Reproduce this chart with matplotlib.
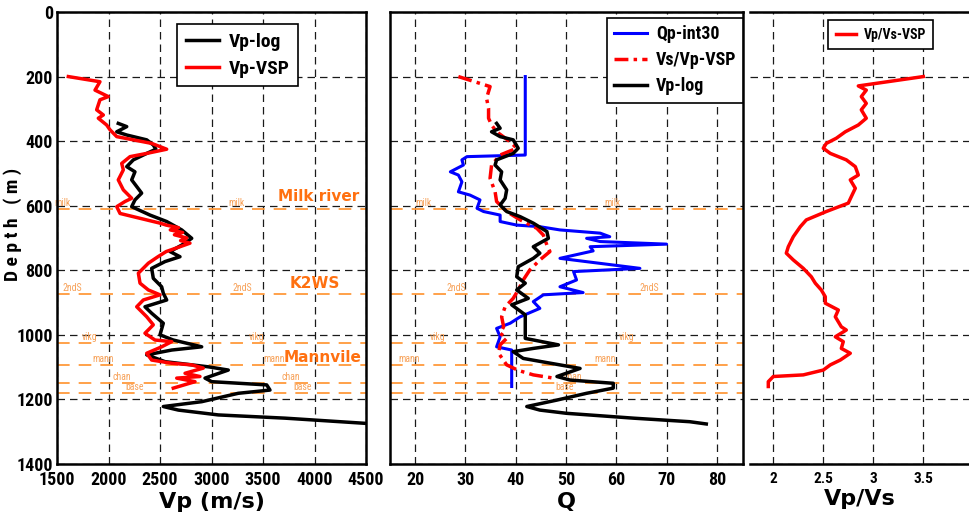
import matplotlib
matplotlib.use("Agg")
import matplotlib.pyplot as plt
from matplotlib import font_manager

# ---------------- data ----------------
vp_vsp_depth = [200, 216, 242, 262, 272, 303, 319, 329, 350, 365, 386, 396, 407, 425, 438, 448, 469, 489,
                520, 551, 577, 587, 603, 624, 639, 654, 660, 668, 675, 683, 690, 700, 708, 716, 727, 742,
                758, 778, 809, 840, 861, 876, 892, 913, 944, 969, 995, 1016, 1021, 1037, 1057, 1078, 1088,
                1093, 1103, 1119, 1129, 1134, 1145, 1165]
vp_vsp = [1610, 1917, 1869, 1998, 1917, 1885, 1950, 1901, 1982, 2015, 2080, 2241, 2419, 2565, 2371, 2209, 2128, 2144,
          2095, 2144, 2225, 2160, 2080, 2112, 2306, 2500, 2560, 2680, 2600, 2720, 2640, 2760, 2700, 2791, 2694, 2560,
          2480, 2387, 2290, 2306, 2387, 2500, 2338, 2274, 2371, 2435, 2354, 2451, 2614, 2516, 2371, 2419, 2614,
          2808, 2920, 2743, 2888, 2662, 2840, 2629]

vp_log_depth = [345, 355, 371, 381, 396, 412, 425, 438, 458, 479, 495, 520, 561, 582, 603, 629, 649, 675, 701,
                722, 742, 758, 773, 794, 825, 851, 871, 892, 913, 933, 964, 1000, 1016, 1037, 1047, 1062, 1083,
                1099, 1109, 1134, 1145, 1155, 1171, 1181, 1207, 1222, 1233, 1248, 1258, 1274]
vp_log = [2095, 2177, 2080, 2177, 2371, 2435, 2460, 2371, 2241, 2177, 2257, 2225, 2322, 2257, 2225, 2403, 2565, 2711, 2808,
          2711, 2597, 2694, 2549, 2419, 2435, 2516, 2532, 2565, 2354, 2419, 2532, 2500, 2629, 2905, 2614, 2371, 2549,
          2969, 3163, 2937, 3002, 3536, 3568, 3260, 2905, 2532, 2678, 3066, 3714, 4490]

qp_depth = [200, 443, 448, 458, 474, 495, 505, 526, 557, 567, 582, 608, 618, 629, 649, 660, 665, 675, 685, 696,
            701, 711, 719, 727, 740, 763, 794, 804, 830, 851, 869, 876, 897, 918, 944, 964, 980, 1006, 1037,
            1047, 1160]
qp_int30 = [41.9, 41.9, 30.3, 29.3, 29.6, 27.0, 28.6, 29.3, 28.6, 30.9, 32.9, 32.3, 33.6, 36.9, 36.9, 40.2, 44.8,
            48.8, 56.8, 58.7, 54.1, 56.8, 70.0, 54.8, 55.4, 48.8, 64.7, 51.5, 52.1, 48.8, 53.4, 45.5, 43.5, 44.8,
            40.9, 38.9, 36.2, 36.9, 36.2, 39.2, 39.2]

qvs_depth = [200, 231, 267, 298, 329, 350, 371, 402, 422, 443, 474, 515, 557, 587, 618, 644, 670, 691, 722, 742,
             768, 799, 830, 861, 887, 913, 944, 975, 995, 1011, 1031, 1057, 1093, 1110, 1124, 1134]
q_vsvp = [28.6, 34.9, 34.2, 34.6, 34.6, 35.2, 36.2, 38.9, 40.2, 36.9, 35.2, 34.9, 35.9, 36.2, 38.2, 40.9, 44.2,
          45.5, 46.2, 46.8, 44.8, 42.8, 41.5, 40.5, 39.5, 37.9, 37.2, 37.6, 36.9, 38.2, 36.9, 36.6, 38.2, 40.5,
          43.5, 47.5]

qlog_depth = [345, 360, 371, 386, 396, 422, 438, 458, 474, 495, 520, 551, 577, 598, 618, 634, 654, 680, 701, 727,
              747, 763, 789, 820, 840, 861, 887, 907, 938, 985, 1011, 1031, 1042, 1052, 1073, 1104, 1129, 1140,
              1150, 1165, 1181, 1202, 1222, 1233, 1243, 1258, 1269, 1276]
q_log = [36.2, 36.9, 35.2, 36.9, 39.5, 40.5, 39.5, 36.2, 35.9, 37.2, 36.9, 38.2, 37.9, 36.9, 38.2, 40.9, 43.5,
         46.2, 46.5, 43.5, 44.8, 43.5, 40.5, 40.2, 41.9, 40.2, 42.5, 39.2, 41.9, 41.9, 41.9, 48.5, 43.5, 39.5,
         41.5, 52.8, 48.2, 50.8, 59.4, 59.4, 54.1, 48.2, 42.2, 44.8, 50.1, 63.4, 74.6, 77.9]

vpvs_depth = [200, 229, 242, 262, 283, 303, 329, 350, 371, 391, 407, 422, 438, 458, 479, 505, 520, 546, 572, 592,
              618, 644, 665, 696, 727, 747, 768, 794, 820, 840, 861, 882, 902, 923, 944, 975, 985, 1006, 1021,
              1042, 1057, 1078, 1093, 1109, 1124, 1129, 1145, 1160]
vpvs = [3.50, 2.85, 2.93, 2.88, 2.93, 2.88, 2.93, 2.85, 2.72, 2.63, 2.53, 2.50, 2.57, 2.73, 2.82, 2.85, 2.77, 2.82,
        2.78, 2.75, 2.53, 2.33, 2.27, 2.20, 2.15, 2.13, 2.20, 2.30, 2.38, 2.42, 2.48, 2.52, 2.52, 2.65, 2.62, 2.68,
        2.73, 2.62, 2.70, 2.68, 2.77, 2.67, 2.57, 2.50, 2.30, 2.00, 1.95, 1.95]

tops_names = ["milk", "2ndS", "vikg", "mann", "chan", "base"]
tops_depth = [610, 874, 1024, 1094, 1148, 1181]
tops_lbl_x1 = [[1558, 3247], [1646, 3296], [1820, 3442], [1947, 3607], [2131, 3772], [2257, 3888]]
tops_lbl_x2 = [[21.6, 59.3], [28.1, 66.5], [24.5, 62.1], [18.8, 57.7], [None, 51.4], [None, 49.8]]

zone_names = ["Milk river", "K2WS", "Mannvile"]
zone_x = [4044, 4005, 4083]
zone_y = [573, 840, 1069]

depth_ticks = [0, 200, 400, 600, 800, 1000, 1200, 1400]
vp_ticks = [1500, 2000, 2500, 3000, 3500, 4000, 4500]
q_ticks = [20, 30, 40, 50, 60, 70, 80]
vpvs_ticks = [2, 2.5, 3, 3.5]
vpvs_ticklabels = ["2", "2.5", "3", "3.5"]

# ---------------- fonts ----------------
def pick(names):
    for n in names:
        try:
            font_manager.findfont(font_manager.FontProperties(family=n), fallback_to_default=False)
            return n
        except Exception:
            pass
    return "DejaVu Sans"

NARROW = pick(["Liberation Sans Narrow", "Roboto Condensed", "Liberation Sans"])
WIDE = "DejaVu Sans"

ORANGE_LINE = "#ff9a3c"
ORANGE_TXT = "#ff7010"
ORANGE_SMALL = "#f7a25a"

fig = plt.figure(figsize=(9.69, 5.21), dpi=100)
W, H = 969.0, 521.0
top_px, bot_px = 12, 464


def mkax(l, r):
    return fig.add_axes([l / W, (H - bot_px) / H, (r - l) / W, (bot_px - top_px) / H])


ax1 = mkax(57, 366)
ax2 = mkax(390, 743)
ax3 = mkax(750, 969)

grid_kw = dict(color="#1a1a1a", linewidth=0.9, linestyle=(0, (6, 4)))

for ax in (ax1, ax2, ax3):
    ax.set_ylim(1400, 0)
    ax.set_yticks(depth_ticks)
    ax.grid(True, **grid_kw)
    ax.set_axisbelow(True)
    ax.tick_params(length=0, pad=3)
    for s in ax.spines.values():
        s.set_linewidth(1.8)

ax1.set_xlim(1500, 4500)
ax1.set_xticks(vp_ticks)
ax2.set_xlim(15, 85.2)
ax2.set_xticks(q_ticks)
ax3.set_xlim(1.767, 3.957)
ax3.set_xticks(vpvs_ticks)
ax3.set_xticklabels(vpvs_ticklabels)
ax1.tick_params(axis="x", pad=5)
ax2.tick_params(axis="x", pad=5)
ax3.tick_params(axis="x", pad=6)

for lab in ax1.get_yticklabels() + ax1.get_xticklabels() + ax2.get_xticklabels():
    lab.set_fontfamily(NARROW)
    lab.set_fontweight("bold")
    lab.set_fontsize(13)
for lab in ax3.get_xticklabels():
    lab.set_fontfamily(NARROW)
    lab.set_fontweight("bold")
    lab.set_fontsize(11)
ax2.set_yticklabels([])
ax3.set_yticklabels([])
ax3.spines["left"].set_visible(False)
ax3.spines["right"].set_visible(False)

# formation tops
for ax, xs in ((ax1, tops_lbl_x1), (ax2, tops_lbl_x2)):
    for name, d, xl in zip(tops_names, tops_depth, xs):
        ax.axhline(d, color=ORANGE_LINE, linewidth=1.3, linestyle=(0, (7, 5)), zorder=1.5)
        for x in xl:
            if x is None:
                continue
            ax.text(x, d - 3, name, color=ORANGE_SMALL, fontsize=7, family=NARROW,
                    ha="center", va="bottom", zorder=1.6)

for name, x, y in zip(zone_names, zone_x, zone_y):
    ax1.text(x, y, name, color=ORANGE_TXT, fontsize=11, family=WIDE, fontweight="bold",
             ha="center", va="center", zorder=4)

# curves
ax1.plot(vp_log, vp_log_depth, color="black", linewidth=2.5, label="Vp-log", zorder=3)
ax1.plot(vp_vsp, vp_vsp_depth, color="#ff0000", linewidth=2.5, label="Vp-VSP", zorder=3)

ax2.plot(qp_int30, qp_depth, color="#0000ff", linewidth=2.2, label="Qp-int30", zorder=3)
ax2.plot(q_vsvp, qvs_depth, color="#ff0000", linewidth=2.5, linestyle=(0, (4, 1.5, 1, 1.5)),
         label="Vs/Vp-VSP", zorder=3)
ax2.plot(q_log, qlog_depth, color="black", linewidth=2.5, label="Vp-log", zorder=3)

ax3.plot(vpvs, vpvs_depth, color="#ff0000", linewidth=2.5, label="Vp/Vs-VSP", zorder=3)

leg_kw = dict(loc="upper left", borderaxespad=0, fancybox=False, framealpha=1,
              edgecolor="black", handletextpad=0.5)
l1 = ax1.legend(bbox_to_anchor=(0.388, 0.973), prop=dict(family=NARROW, weight="bold", size=14),
                labelspacing=0.45, borderpad=0.45, handlelength=1.7, **leg_kw)
l2 = ax2.legend(bbox_to_anchor=(0.615, 0.987), prop=dict(family=NARROW, weight="bold", size=13),
                labelspacing=0.45, borderpad=0.4, handlelength=1.8, **leg_kw)
l3 = ax3.legend(bbox_to_anchor=(0.356, 0.982), prop=dict(family=NARROW, weight="bold", size=10),
                labelspacing=0.3, borderpad=0.55, handlelength=1.5, **leg_kw)
for lg in (l1, l2, l3):
    lg.get_frame().set_linewidth(1.2)
    lg.set_zorder(5)

ax1.set_xlabel("Vp (m/s)", family=WIDE, fontweight="bold", fontsize=16, labelpad=2)
ax2.set_xlabel("Q", family=WIDE, fontweight="bold", fontsize=16, labelpad=2)
ax3.set_xlabel("Vp/Vs", family=WIDE, fontweight="bold", fontsize=16, labelpad=2)
ax1.set_ylabel("D e p t h   ( m )", family=NARROW, fontweight="bold", fontsize=14)
ax1.yaxis.set_label_coords(-0.112, 0.53)

fig.savefig("out.png", dpi=100)
